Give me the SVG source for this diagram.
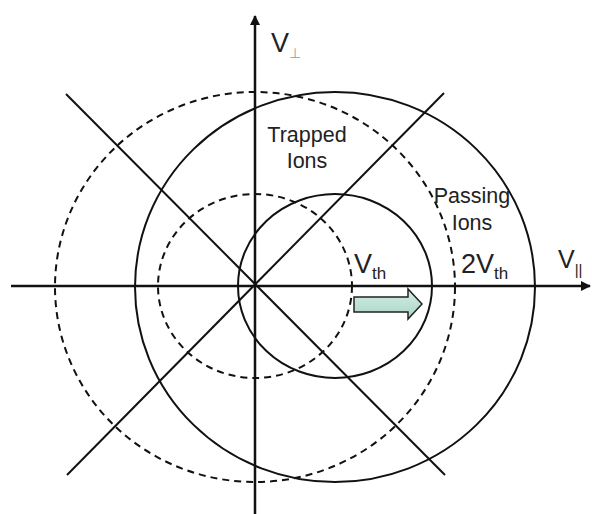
<svg xmlns="http://www.w3.org/2000/svg" width="592" height="514" viewBox="0 0 592 514">
<style>
.c{fill:none;stroke:#111;stroke-width:2}
.d{fill:none;stroke:#111;stroke-width:2;stroke-dasharray:7 5}
.ax{stroke:#111;stroke-width:2.5;fill:none}
.ln{stroke:#111;stroke-width:2;fill:none}
.t{font-family:"Liberation Sans",Arial,sans-serif;fill:#222}
</style>
<defs>
<marker id="ah" viewBox="0 0 10 10" refX="9" refY="5" markerWidth="4" markerHeight="4" orient="auto" markerUnits="strokeWidth">
<path d="M0,0 L10,5 L0,10 z" fill="#111"/>
</marker>
<linearGradient id="g" x1="0" y1="0" x2="0" y2="1">
<stop offset="0" stop-color="#d6efe6"/>
<stop offset="1" stop-color="#a9d3c6"/>
</linearGradient>
</defs>
<rect width="592" height="514" fill="#fff"/>
<g id="circles">
<ellipse id="solid-small" class="c" cx="335" cy="286" rx="97" ry="92"/>
<ellipse id="solid-large" class="c" cx="335" cy="287" rx="200" ry="195"/>
<ellipse id="dashed-small" class="d" cx="255" cy="286" rx="97" ry="92"/>
<ellipse id="dashed-large" class="d" cx="255" cy="287" rx="200" ry="195"/>
</g>
<g id="connectors">
<line class="ax" x1="11" y1="286" x2="590" y2="286" marker-end="url(#ah)"/>
<line class="ax" x1="255" y1="514" x2="255" y2="16" marker-end="url(#ah)"/>
<line class="ln" x1="66" y1="94" x2="445" y2="475"/>
<line class="ln" x1="67" y1="475" x2="444" y2="93"/>
</g>
<g id="arrow">
<path d="M354,297 L408,297 L408,289 L422,304 L408,319 L408,312 L354,312 Z" fill="url(#g)" stroke="#222" stroke-width="1.5" stroke-linejoin="miter"/>
</g>
<g id="labels">
<text class="t" x="271" y="52" font-size="27">V<tspan font-size="14" dy="6" fill="#999">⊥</tspan></text>
<text class="t" x="558" y="268" font-size="25">V<tspan font-size="15" dy="7">||</tspan></text>
<text class="t" x="354" y="273" font-size="27">V<tspan font-size="17" dy="6">th</tspan></text>
<text class="t" x="461" y="273" font-size="27">2V<tspan font-size="17" dy="6">th</tspan></text>
<text class="t" x="307" y="142" font-size="21.5" text-anchor="middle">Trapped</text>
<text class="t" x="307" y="168" font-size="21.5" text-anchor="middle">Ions</text>
<text class="t" x="472" y="203" font-size="21.5" text-anchor="middle">Passing</text>
<text class="t" x="472" y="230" font-size="21.5" text-anchor="middle">Ions</text>
</g>
</svg>
